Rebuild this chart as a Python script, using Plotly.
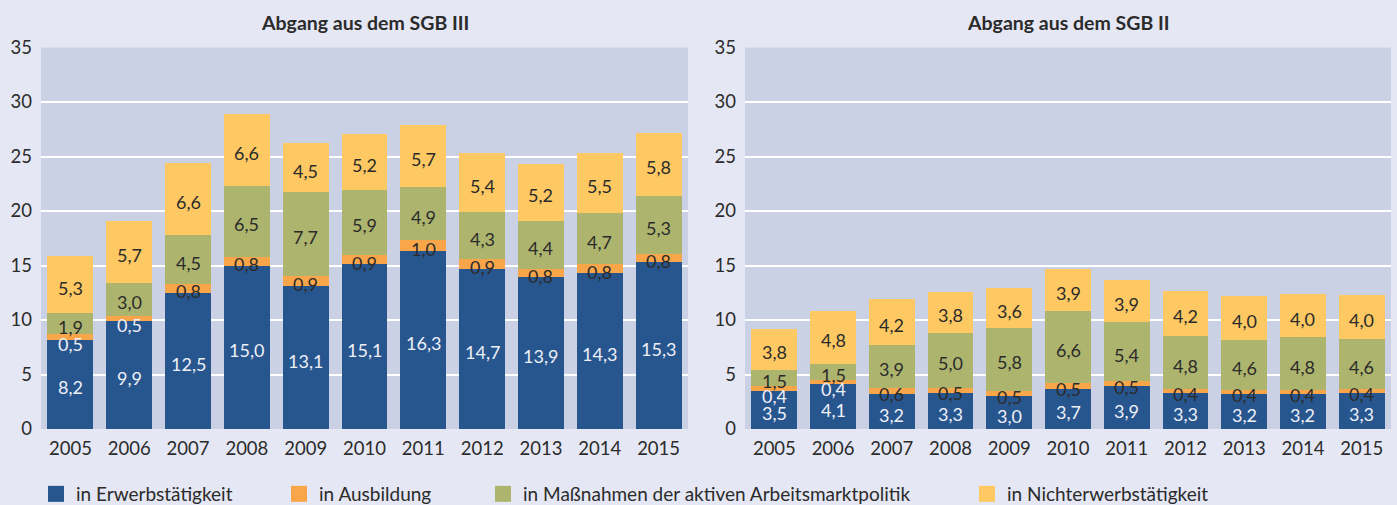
import plotly.graph_objects as go

years = ["2005", "2006", "2007", "2008", "2009", "2010", "2011", "2012", "2013", "2014", "2015"]
series_names = ["in Erwerbstätigkeit", "in Ausbildung",
                "in Maßnahmen der aktiven Arbeitsmarktpolitik", "in Nichterwerbstätigkeit"]
panel_titles = ["Abgang aus dem SGB III", "Abgang aus dem SGB II"]

sgb3_erwerb = [8.2, 9.9, 12.5, 15.0, 13.1, 15.1, 16.3, 14.7, 13.9, 14.3, 15.3]
sgb3_ausb = [0.5, 0.5, 0.8, 0.8, 0.9, 0.9, 1.0, 0.9, 0.8, 0.8, 0.8]
sgb3_mass = [1.9, 3.0, 4.5, 6.5, 7.7, 5.9, 4.9, 4.3, 4.4, 4.7, 5.3]
sgb3_nicht = [5.3, 5.7, 6.6, 6.6, 4.5, 5.2, 5.7, 5.4, 5.2, 5.5, 5.8]

sgb2_erwerb = [3.5, 4.1, 3.2, 3.3, 3.0, 3.7, 3.9, 3.3, 3.2, 3.2, 3.3]
sgb2_ausb = [0.4, 0.4, 0.6, 0.5, 0.5, 0.5, 0.5, 0.4, 0.4, 0.4, 0.4]
sgb2_mass = [1.5, 1.5, 3.9, 5.0, 5.8, 6.6, 5.4, 4.8, 4.6, 4.8, 4.6]
sgb2_nicht = [3.8, 4.8, 4.2, 3.8, 3.6, 3.9, 3.9, 4.2, 4.0, 4.0, 4.0]

y_ticks = [0, 5, 10, 15, 20, 25, 30, 35]

# ---- styling ----
W, H = 1397, 505
colors = ["#27568f", "#f9a54a", "#adb46e", "#fec862"]
page_bg = "#e5e8f4"
plot_bg = "#cbd1e4"
dark = "#2b2b2b"
light = "#eef0f8"
FONT = "Lato"


def py(px):
    """paper y for a pixel row counted from the top."""
    return 1 - px / H


panels = [
    [sgb3_erwerb, sgb3_ausb, sgb3_mass, sgb3_nicht],
    [sgb2_erwerb, sgb2_ausb, sgb2_mass, sgb2_nicht],
]
x_domains = [[41 / W, 688 / W], [745 / W, 1391 / W]]
y_domain = [py(429), py(47.5)]
axis_ids = [("x", "y"), ("x2", "y2")]

fig = go.Figure()
annotations = []

for p, (series, (xa, ya)) in enumerate(zip(panels, axis_ids)):
    base = [0.0] * len(years)
    for s, vals in enumerate(series):
        fig.add_trace(go.Bar(
            x=years, y=vals, name=series_names[s], marker=dict(color=colors[s], line=dict(width=0)),
            xaxis=xa, yaxis=ya, showlegend=False, hoverinfo="skip",
        ))
        for i, v in enumerate(vals):
            mid = base[i] + v / 2
            color = dark
            shift = -3
            if s == 0:
                color = light
            if s == 1 and i < 2:
                color = light
                shift = -7
            annotations.append(dict(
                x=i, y=mid, xref=xa, yref=ya, text=f"{v:.1f}".replace(".", ","),
                showarrow=False, yshift=shift, xanchor="center", yanchor="middle",
                font=dict(family=FONT, size=18, color=color),
            ))
            base[i] += v
    annotations.append(dict(
        x=(x_domains[p][0] + x_domains[p][1]) / 2, y=py(22), xref="paper", yref="paper",
        text=f"<b>{panel_titles[p]}</b>", showarrow=False, xanchor="center", yanchor="middle",
        font=dict(family=FONT, size=19.5, color=dark),
    ))

# legend-only entries (one legend each so they can sit at their own positions)
legend_lefts = [48, 291, 495, 979]
layout_legends = {}
for s in range(4):
    lname = "legend" if s == 0 else f"legend{s + 1}"
    fig.add_trace(go.Scatter(
        x=[None], y=[None], mode="markers", name=series_names[s],
        marker=dict(symbol="square", size=16, color=colors[s]),
        legend=lname, showlegend=True, xaxis="x", yaxis="y", hoverinfo="skip",
    ))
    layout_legends[lname] = dict(
        orientation="h", x=(legend_lefts[s] - 12) / W, xanchor="left",
        y=py(494), yanchor="middle", bgcolor="rgba(0,0,0,0)",
        font=dict(family=FONT, size=19, color=dark), borderwidth=0,
    )

fig.update_layout(
    width=W, height=H, barmode="stack", bargap=0.22,
    paper_bgcolor=page_bg, plot_bgcolor=plot_bg,
    margin=dict(l=0, r=0, t=0, b=0, autoexpand=False),
    font=dict(family=FONT, color=dark),
    annotations=annotations,
    **layout_legends,
)

for p, (xa, ya) in enumerate(axis_ids):
    xkey = "xaxis" if p == 0 else "xaxis2"
    ykey = "yaxis" if p == 0 else "yaxis2"
    fig.update_layout({
        xkey: dict(domain=x_domains[p], anchor=ya, type="category", categoryorder="array",
                   categoryarray=years, range=[-0.5, len(years) - 0.5], showgrid=False,
                   zeroline=False, showline=False, ticks="", automargin=False,
                   tickfont=dict(family=FONT, size=18.5, color=dark), ticklabelstandoff=6),
        ykey: dict(domain=y_domain, anchor=xa, range=[0, 35], tickvals=y_ticks,
                   showgrid=True, gridcolor="white", gridwidth=2, zeroline=False,
                   showline=False, ticks="", automargin=False,
                   tickfont=dict(family=FONT, size=18.5, color=dark), ticklabelstandoff=8),
    })

page_js = (
    "document.documentElement.style.margin='0';"
    "document.documentElement.style.overflow='hidden';"
    "document.body.style.margin='0';"
    "document.body.style.padding='0';"
    "document.body.style.overflow='hidden';"
    "document.body.style.height='505px';"
    "document.body.style.background='#e5e8f4';"
)

fig.write_html("out.html", config={"displayModeBar": False}, post_script=page_js)
